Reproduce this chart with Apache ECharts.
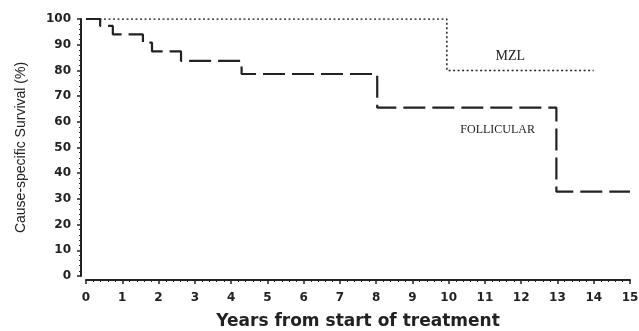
<!DOCTYPE html>
<html><head><meta charset="utf-8">
<script src="https://cdn.jsdelivr.net/npm/echarts@6/dist/echarts.min.js"></script>
<style>html,body{margin:0;padding:0;background:#fff}#c{width:639px;height:331px}</style>
</head><body><div id="c"></div>
<script>
const follicularYears = [0, 0.39, 0.74, 1.57, 1.82, 2.62, 4.29, 8.03, 12.97, 15];
const follicularSurv  = [100, 97.3, 94.0, 90.8, 87.4, 83.7, 78.6, 65.5, 32.8, 32.8];
const mzlYears = [0, 9.95, 14];
const mzlSurv  = [100, 80, 80];
const xTicks = [0,1,2,3,4,5,6,7,8,9,10,11,12,13,14,15];
const yTicks = [0,10,20,30,40,50,60,70,80,90,100];

const chart = echarts.init(document.getElementById('c'), null, {renderer:'canvas'});
const ink = '#222';
chart.setOption({
  animation:false,
  backgroundColor:'#fff',
  grid:{left:86, right:9, top:19, bottom:55, containLabel:false, outerBoundsMode:'none'},
  xAxis:{
    type:'value', min:xTicks[0], max:xTicks[xTicks.length-1], interval:1, offset:4,
    name:'Years from start of treatment', nameLocation:'middle', nameGap:33,
    nameTextStyle:{fontFamily:'DejaVu Sans', fontSize:17, color:ink, fontWeight:'bold'},
    axisLine:{show:true, onZero:false, lineStyle:{color:ink, width:2}},
    axisTick:{show:true, length:4, lineStyle:{color:ink, width:1.5}},
    minorTick:{show:true, splitNumber:5, length:2, lineStyle:{color:ink, width:1}},
    axisLabel:{fontFamily:'DejaVu Sans', fontWeight:'bold', fontSize:12, color:ink, margin:12},
    splitLine:{show:false}
  },
  yAxis:{
    type:'value', min:yTicks[0], max:yTicks[yTicks.length-1], interval:10, offset:5,
    name:'Cause-specific Survival (%)', nameLocation:'middle', nameGap:53, nameRotate:90,
    nameTextStyle:{fontFamily:'Liberation Sans Narrow, Arial Narrow, Liberation Sans', fontSize:14, color:ink},
    axisLine:{show:true, onZero:false, lineStyle:{color:ink, width:2}},
    axisTick:{show:true, length:4, lineStyle:{color:ink, width:1.5}},
    minorTick:{show:true, splitNumber:5, length:2, lineStyle:{color:ink, width:1}},
    axisLabel:{fontFamily:'DejaVu Sans', fontWeight:'bold', fontSize:12, color:ink, margin:10},
    splitLine:{show:false}
  },
  series:[
    {
      name:'FOLLICULAR', type:'line', step:'end', symbol:'none',
      data: follicularYears.map((x,i)=>[x, follicularSurv[i]]),
      lineStyle:{color:ink, width:2.2, type:[22,7]},
      markPoint:{symbol:'circle', symbolSize:0, silent:true,
        data:[{coord:[11.35, 57], label:{show:true, formatter:'FOLLICULAR', fontFamily:'Liberation Serif', fontSize:12, color:ink}}]}
    },
    {
      name:'MZL', type:'line', step:'end', symbol:'none',
      data: mzlYears.map((x,i)=>[x, mzlSurv[i]]),
      lineStyle:{color:ink, width:1.5, type:[2,2.5]},
      markPoint:{symbol:'circle', symbolSize:0, silent:true,
        data:[{coord:[11.7, 85.5], label:{show:true, formatter:'MZL', fontFamily:'Liberation Serif', fontSize:14, color:ink}}]}
    }
  ]
});
</script></body></html>
